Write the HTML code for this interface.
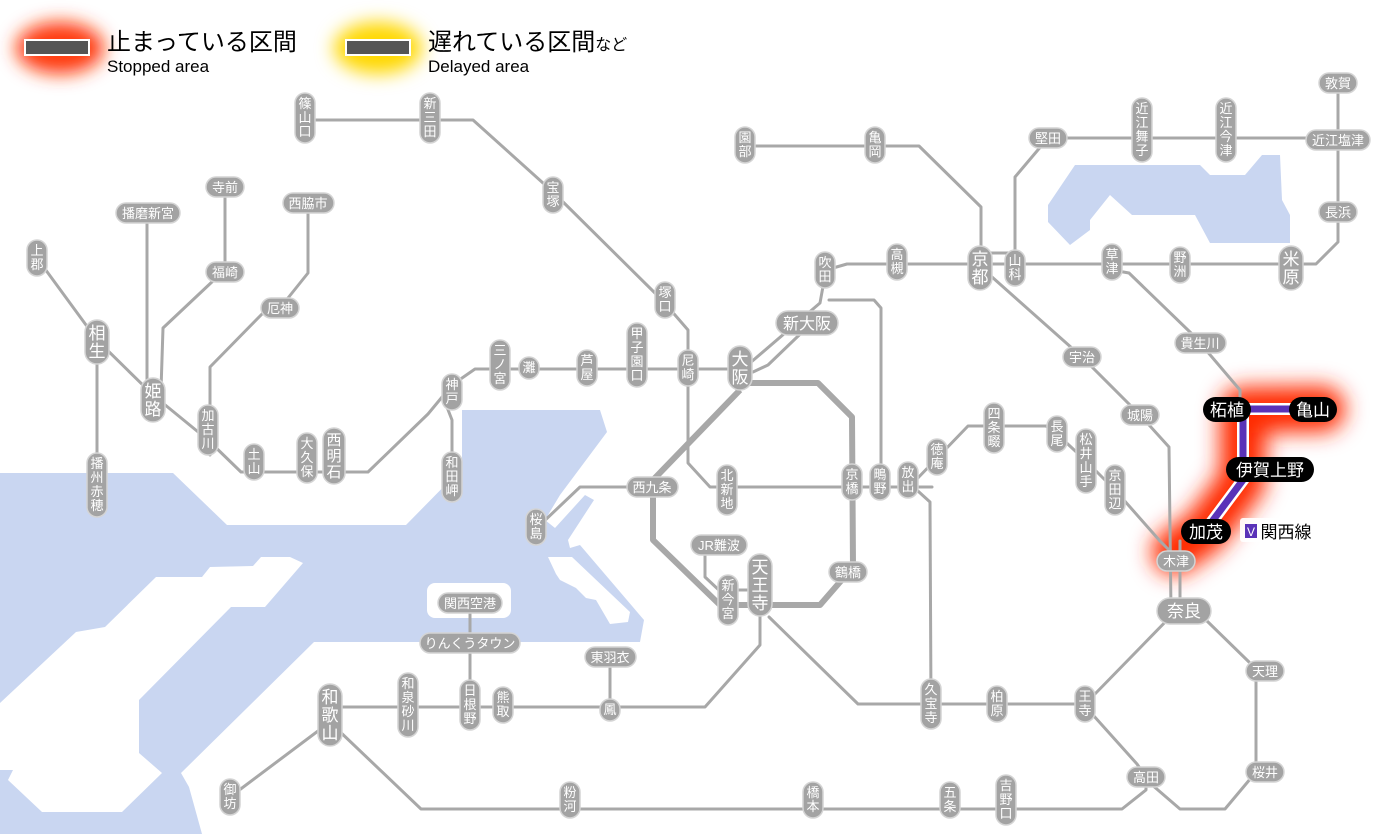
<!DOCTYPE html>
<html><head><meta charset="utf-8"><style>
html,body{margin:0;padding:0;background:#fff;}
svg{display:block;font-family:"Liberation Sans","Noto Sans CJK JP",sans-serif;}
.ln{fill:none;stroke:#a8a8a8;stroke-width:3;stroke-linejoin:round;stroke-linecap:round;}
.tk{fill:none;stroke:#a8a8a8;stroke-width:6;stroke-linejoin:round;}
.p{fill:#a3a3a3;stroke:#d4d4d4;stroke-width:1.5;}
.t{fill:#fff;font-size:13px;text-anchor:middle;}
.b{fill:#fff;font-size:17px;text-anchor:middle;}
.k{fill:#000;}
.kt{fill:#fff;font-size:17px;text-anchor:middle;}
</style></head><body>
<svg width="1400" height="834" viewBox="0 0 1400 834" xmlns="http://www.w3.org/2000/svg">
<defs>
<filter id="bl" x="-50%" y="-50%" width="200%" height="200%"><feGaussianBlur stdDeviation="11"/></filter>
<filter id="bl2" x="-50%" y="-50%" width="200%" height="200%"><feGaussianBlur stdDeviation="9"/></filter>
</defs>
<!-- water -->
<polygon fill="#c9d6f1" points="0,473 173,473 227,525 406,525 462,468 462,410 600,410 607,432 560,495 545,520 555,528 585,495 594,500 568,540 570,548 580,545 644,620 640,642 314,642 181,773 189,787 202,834 0,834"/>
<polygon fill="#fff" points="303,563 290,557 261,557 253,566 210,567 202,577 156,577 105,627 76,632 0,703 0,770 13,770 8,780 42,812 122,812 162,773 139,753 139,700 231,607 265,607"/>
<polygon fill="#fff" points="548,557 572,557 630,612 628,622 610,624 596,600 586,598 576,588 560,580 556,574"/>
<rect x="427" y="583" width="84" height="35" rx="8" fill="#fff"/>
<polygon fill="#c9d6f1" points="1048,205 1075,165 1200,165 1210,175 1245,175 1262,155 1280,155 1282,200 1290,215 1290,243 1210,243 1195,215 1132,215 1110,195 1090,220 1090,230 1070,245 1048,222"/>

<!-- legend -->
<ellipse cx="60" cy="48" rx="44" ry="26" fill="#ff3a10" filter="url(#bl2)"/>
<rect x="25" y="40" width="64" height="15" fill="#555" stroke="#fff" stroke-width="2"/>
<text x="107" y="50" font-size="24" fill="#000">止まっている区間</text>
<text x="107" y="72" font-size="17" fill="#000">Stopped area</text>
<ellipse cx="378" cy="48" rx="44" ry="26" fill="#ffd800" filter="url(#bl2)"/>
<rect x="346" y="40" width="64" height="15" fill="#555" stroke="#fff" stroke-width="2"/>
<text x="428" y="50" font-size="24" fill="#000">遅れている区間<tspan font-size="16">など</tspan></text>
<text x="428" y="72" font-size="17" fill="#000">Delayed area</text>

<!-- glow for Kansai line -->
<path d="M1175,552 L1205,531 L1243,480 L1243,410 L1322,409" fill="none" stroke="#ff2a00" stroke-width="46" stroke-linejoin="round" stroke-linecap="round" filter="url(#bl)"/>

<!-- lines -->
<polyline class="ln" points="305,120 473,120 553,192 662,300 688,330 688,463 710,487 932,487"/>
<polyline class="ln" points="37,258 97,340 153,395 208,440 241,472 368,472 428,414 452,385 475,369 740,369"/>
<polyline class="ln" points="445,402 452,420 452,478"/>
<polyline class="ln" points="210,455 210,367 263,313 280,308 308,273 308,205"/>
<polyline class="ln" points="147,213 147,400"/>
<polyline class="ln" points="161,390 163,328 214,280 225,272 225,187"/>
<polyline class="ln" points="97,340 97,485"/>
<polyline class="ln" points="750,363 820,303 826,270 847,264 1316,264 1338,242 1338,83"/>
<polyline class="ln" points="753,372 768,365 820,315"/>
<polyline class="ln" points="980,253 1015,253"/>
<polyline class="ln" points="1015,265 1015,177 1048,138 1338,138"/>
<polyline class="ln" points="745,146 919,146 981,207 981,265"/>
<polyline class="ln" points="992,277 1082,357 1140,415 1169,447 1171,611"/>
<polyline class="ln" points="1180,541 1180,611"/>
<polyline class="ln" points="1112,270 1129,273 1191,333 1200,343 1240,390 1240,400"/>
<polyline class="ln" points="1180,561 1160,541 1115,490 1086,461 1057,434 1046,426 968,426 914,482"/>
<polyline class="ln" points="908,482 930,502 931,704"/>
<polyline class="ln" points="829,300 874,300 881,308 881,487"/>
<polyline class="tk" points="740,380 750,383 818,383 852,417 853,567 820,605 720,605 653,540 653,480 740,390"/>
<polyline class="ln" points="653,487 580,487 540,525"/>
<polyline class="ln" points="705,553 705,577 722,593"/>
<polyline class="ln" points="728,590 760,590"/>
<polyline class="ln" points="769,617 858,704 1085,704 1093,696 1173,614"/>
<polyline class="ln" points="1200,611 1207,621 1249,662 1256,671 1256,772 1225,809 1180,809 1151,784"/>
<polyline class="ln" points="1093,715 1137,764 1146,777 1146,790 1122,809 421,809 335,727"/>
<polyline class="ln" points="760,600 760,645 705,707 330,707"/>
<polyline class="ln" points="610,657 610,707"/>
<polyline class="ln" points="470,603 470,707"/>
<polyline class="ln" points="330,722 230,797"/>

<!-- Kansai line purple -->
<path d="M1205,531 L1243,480 L1243,409 L1314,409" fill="none" stroke="#fff" stroke-width="12" stroke-linejoin="miter"/>
<path d="M1205,531 L1243,480 L1243,409 L1314,409" fill="none" stroke="#5a32b8" stroke-width="7" stroke-linejoin="miter"/>

<!-- vertical stations (normal) -->
<g>
<rect class="p" x="295" y="93" width="20" height="50" rx="10"/><text class="t"><tspan x="305" y="108">篠</tspan><tspan x="305" y="122">山</tspan><tspan x="305" y="136">口</tspan></text>
<rect class="p" x="420" y="93" width="20" height="50" rx="10"/><text class="t"><tspan x="430" y="108">新</tspan><tspan x="430" y="122">三</tspan><tspan x="430" y="136">田</tspan></text>
<rect class="p" x="543" y="177" width="20" height="36" rx="10"/><text class="t"><tspan x="553" y="192">宝</tspan><tspan x="553" y="206">塚</tspan></text>
<rect class="p" x="655" y="282" width="20" height="36" rx="10"/><text class="t"><tspan x="665" y="297">塚</tspan><tspan x="665" y="311">口</tspan></text>
<rect class="p" x="678" y="350" width="20" height="36" rx="10"/><text class="t"><tspan x="688" y="365">尼</tspan><tspan x="688" y="379">崎</tspan></text>
<rect class="p" x="627" y="323" width="20" height="64" rx="10"/><text class="t"><tspan x="637" y="338">甲</tspan><tspan x="637" y="352">子</tspan><tspan x="637" y="366">園</tspan><tspan x="637" y="380">口</tspan></text>
<rect class="p" x="577" y="350" width="20" height="36" rx="10"/><text class="t"><tspan x="587" y="365">芦</tspan><tspan x="587" y="379">屋</tspan></text>
<rect class="p" x="519" y="357" width="20" height="22" rx="10"/><text class="t" x="529" y="372">灘</text>
<rect class="p" x="490" y="340" width="20" height="50" rx="10"/><text class="t"><tspan x="500" y="355">三</tspan><tspan x="500" y="369">ノ</tspan><tspan x="500" y="383">宮</tspan></text>
<rect class="p" x="442" y="374" width="20" height="36" rx="10"/><text class="t"><tspan x="452" y="389">神</tspan><tspan x="452" y="403">戸</tspan></text>
<rect class="p" x="442" y="452" width="20" height="50" rx="10"/><text class="t"><tspan x="452" y="467">和</tspan><tspan x="452" y="481">田</tspan><tspan x="452" y="495">岬</tspan></text>
<rect class="p" x="323" y="428" width="22" height="56" rx="11"/><text class="t" style="font-size:15px"><tspan x="334" y="445">西</tspan><tspan x="334" y="461">明</tspan><tspan x="334" y="477">石</tspan></text>
<rect class="p" x="297" y="433" width="20" height="50" rx="10"/><text class="t"><tspan x="307" y="448">大</tspan><tspan x="307" y="462">久</tspan><tspan x="307" y="476">保</tspan></text>
<rect class="p" x="244" y="444" width="20" height="36" rx="10"/><text class="t"><tspan x="254" y="459">土</tspan><tspan x="254" y="473">山</tspan></text>
<rect class="p" x="198" y="405" width="20" height="50" rx="10"/><text class="t"><tspan x="208" y="420">加</tspan><tspan x="208" y="434">古</tspan><tspan x="208" y="448">川</tspan></text>
<rect class="p" x="27" y="240" width="20" height="36" rx="10"/><text class="t"><tspan x="37" y="255">上</tspan><tspan x="37" y="269">郡</tspan></text>
<rect class="p" x="87" y="453" width="20" height="64" rx="10"/><text class="t"><tspan x="97" y="468">播</tspan><tspan x="97" y="482">州</tspan><tspan x="97" y="496">赤</tspan><tspan x="97" y="510">穂</tspan></text>
<rect class="p" x="815" y="252" width="20" height="36" rx="10"/><text class="t"><tspan x="825" y="267">吹</tspan><tspan x="825" y="281">田</tspan></text>
<rect class="p" x="887" y="244" width="20" height="36" rx="10"/><text class="t"><tspan x="897" y="259">高</tspan><tspan x="897" y="273">槻</tspan></text>
<rect class="p" x="1005" y="250" width="20" height="36" rx="10"/><text class="t"><tspan x="1015" y="265">山</tspan><tspan x="1015" y="279">科</tspan></text>
<rect class="p" x="1102" y="244" width="20" height="36" rx="10"/><text class="t"><tspan x="1112" y="259">草</tspan><tspan x="1112" y="273">津</tspan></text>
<rect class="p" x="1170" y="247" width="20" height="36" rx="10"/><text class="t"><tspan x="1180" y="262">野</tspan><tspan x="1180" y="276">洲</tspan></text>
<rect class="p" x="1132" y="98" width="20" height="64" rx="10"/><text class="t"><tspan x="1142" y="113">近</tspan><tspan x="1142" y="127">江</tspan><tspan x="1142" y="141">舞</tspan><tspan x="1142" y="155">子</tspan></text>
<rect class="p" x="1216" y="98" width="20" height="64" rx="10"/><text class="t"><tspan x="1226" y="113">近</tspan><tspan x="1226" y="127">江</tspan><tspan x="1226" y="141">今</tspan><tspan x="1226" y="155">津</tspan></text>
<rect class="p" x="735" y="127" width="20" height="36" rx="10"/><text class="t"><tspan x="745" y="142">園</tspan><tspan x="745" y="156">部</tspan></text>
<rect class="p" x="865" y="127" width="20" height="36" rx="10"/><text class="t"><tspan x="875" y="142">亀</tspan><tspan x="875" y="156">岡</tspan></text>
<rect class="p" x="717" y="465" width="20" height="50" rx="10"/><text class="t"><tspan x="727" y="480">北</tspan><tspan x="727" y="494">新</tspan><tspan x="727" y="508">地</tspan></text>
<rect class="p" x="842" y="464" width="20" height="36" rx="10"/><text class="t"><tspan x="852" y="479">京</tspan><tspan x="852" y="493">橋</tspan></text>
<rect class="p" x="870" y="464" width="20" height="36" rx="10"/><text class="t"><tspan x="880" y="479">鴫</tspan><tspan x="880" y="493">野</tspan></text>
<rect class="p" x="898" y="462" width="20" height="36" rx="10"/><text class="t"><tspan x="908" y="477">放</tspan><tspan x="908" y="491">出</tspan></text>
<rect class="p" x="927" y="439" width="20" height="36" rx="10"/><text class="t"><tspan x="937" y="454">徳</tspan><tspan x="937" y="468">庵</tspan></text>
<rect class="p" x="984" y="403" width="20" height="50" rx="10"/><text class="t"><tspan x="994" y="418">四</tspan><tspan x="994" y="432">条</tspan><tspan x="994" y="446">畷</tspan></text>
<rect class="p" x="1047" y="416" width="20" height="36" rx="10"/><text class="t"><tspan x="1057" y="431">長</tspan><tspan x="1057" y="445">尾</tspan></text>
<rect class="p" x="1076" y="429" width="20" height="64" rx="10"/><text class="t"><tspan x="1086" y="444">松</tspan><tspan x="1086" y="458">井</tspan><tspan x="1086" y="472">山</tspan><tspan x="1086" y="486">手</tspan></text>
<rect class="p" x="1105" y="465" width="20" height="50" rx="10"/><text class="t"><tspan x="1115" y="480">京</tspan><tspan x="1115" y="494">田</tspan><tspan x="1115" y="508">辺</tspan></text>
<rect class="p" x="526" y="509" width="20" height="36" rx="10"/><text class="t"><tspan x="536" y="524">桜</tspan><tspan x="536" y="538">島</tspan></text>
<rect class="p" x="718" y="575" width="20" height="50" rx="10"/><text class="t"><tspan x="728" y="590">新</tspan><tspan x="728" y="604">今</tspan><tspan x="728" y="618">宮</tspan></text>
<rect class="p" x="921" y="679" width="20" height="50" rx="10"/><text class="t"><tspan x="931" y="694">久</tspan><tspan x="931" y="708">宝</tspan><tspan x="931" y="722">寺</tspan></text>
<rect class="p" x="987" y="686" width="20" height="36" rx="10"/><text class="t"><tspan x="997" y="701">柏</tspan><tspan x="997" y="715">原</tspan></text>
<rect class="p" x="1075" y="686" width="20" height="36" rx="10"/><text class="t"><tspan x="1085" y="701">王</tspan><tspan x="1085" y="715">寺</tspan></text>
<rect class="p" x="398" y="673" width="20" height="64" rx="10"/><text class="t"><tspan x="408" y="688">和</tspan><tspan x="408" y="702">泉</tspan><tspan x="408" y="716">砂</tspan><tspan x="408" y="730">川</tspan></text>
<rect class="p" x="460" y="680" width="20" height="50" rx="10"/><text class="t"><tspan x="470" y="695">日</tspan><tspan x="470" y="709">根</tspan><tspan x="470" y="723">野</tspan></text>
<rect class="p" x="493" y="687" width="20" height="36" rx="10"/><text class="t"><tspan x="503" y="702">熊</tspan><tspan x="503" y="716">取</tspan></text>
<rect class="p" x="600" y="699" width="20" height="22" rx="10"/><text class="t" x="610" y="714">鳳</text>
<rect class="p" x="220" y="779" width="20" height="36" rx="10"/><text class="t"><tspan x="230" y="794">御</tspan><tspan x="230" y="808">坊</tspan></text>
<rect class="p" x="560" y="782" width="20" height="36" rx="10"/><text class="t"><tspan x="570" y="797">粉</tspan><tspan x="570" y="811">河</tspan></text>
<rect class="p" x="803" y="782" width="20" height="36" rx="10"/><text class="t"><tspan x="813" y="797">橋</tspan><tspan x="813" y="811">本</tspan></text>
<rect class="p" x="940" y="782" width="20" height="36" rx="10"/><text class="t"><tspan x="950" y="797">五</tspan><tspan x="950" y="811">条</tspan></text>
<rect class="p" x="996" y="775" width="20" height="50" rx="10"/><text class="t"><tspan x="1006" y="790">吉</tspan><tspan x="1006" y="804">野</tspan><tspan x="1006" y="818">口</tspan></text>
</g>

<!-- big vertical -->
<g>
<rect class="p" x="85" y="320" width="24" height="44" rx="12"/><text class="b"><tspan x="97" y="339">相</tspan><tspan x="97" y="357">生</tspan></text>
<rect class="p" x="141" y="378" width="24" height="44" rx="12"/><text class="b"><tspan x="153" y="397">姫</tspan><tspan x="153" y="415">路</tspan></text>
<rect class="p" x="728" y="346" width="24" height="44" rx="12"/><text class="b"><tspan x="740" y="365">大</tspan><tspan x="740" y="383">阪</tspan></text>
<rect class="p" x="968" y="246" width="24" height="44" rx="12"/><text class="b"><tspan x="980" y="265">京</tspan><tspan x="980" y="283">都</tspan></text>
<rect class="p" x="1279" y="246" width="24" height="44" rx="12"/><text class="b"><tspan x="1291" y="265">米</tspan><tspan x="1291" y="283">原</tspan></text>
<rect class="p" x="748" y="554" width="24" height="62" rx="12"/><text class="b"><tspan x="760" y="573">天</tspan><tspan x="760" y="591">王</tspan><tspan x="760" y="609">寺</tspan></text>
<rect class="p" x="318" y="684" width="24" height="62" rx="12"/><text class="b"><tspan x="330" y="703">和</tspan><tspan x="330" y="721">歌</tspan><tspan x="330" y="739">山</tspan></text>
</g>

<!-- horizontal stations -->
<g>
<rect class="p" x="206" y="177" width="38" height="20" rx="10"/><text class="t" x="225" y="192">寺前</text>
<rect class="p" x="116" y="203" width="64" height="20" rx="10"/><text class="t" x="148" y="218">播磨新宮</text>
<rect class="p" x="283" y="193" width="51" height="20" rx="10"/><text class="t" x="308" y="208">西脇市</text>
<rect class="p" x="206" y="262" width="38" height="20" rx="10"/><text class="t" x="225" y="277">福崎</text>
<rect class="p" x="261" y="298" width="38" height="20" rx="10"/><text class="t" x="280" y="313">厄神</text>
<rect class="p" x="1063" y="347" width="38" height="20" rx="10"/><text class="t" x="1082" y="362">宇治</text>
<rect class="p" x="1121" y="405" width="38" height="20" rx="10"/><text class="t" x="1140" y="420">城陽</text>
<rect class="p" x="1175" y="333" width="51" height="20" rx="10"/><text class="t" x="1200" y="348">貴生川</text>
<rect class="p" x="1029" y="128" width="38" height="20" rx="10"/><text class="t" x="1048" y="143">堅田</text>
<rect class="p" x="1306" y="130" width="64" height="20" rx="10"/><text class="t" x="1338" y="145">近江塩津</text>
<rect class="p" x="1319" y="73" width="38" height="20" rx="10"/><text class="t" x="1338" y="88">敦賀</text>
<rect class="p" x="1319" y="202" width="38" height="20" rx="10"/><text class="t" x="1338" y="217">長浜</text>
<rect class="p" x="627" y="477" width="51" height="20" rx="10"/><text class="t" x="652" y="492">西九条</text>
<rect class="p" x="691" y="535" width="56" height="20" rx="10"/><text class="t" x="719" y="550">JR難波</text>
<rect class="p" x="829" y="562" width="38" height="20" rx="10"/><text class="t" x="848" y="577">鶴橋</text>
<rect class="p" x="438" y="593" width="64" height="20" rx="10"/><text class="t" x="470" y="608">関西空港</text>
<rect class="p" x="420" y="633" width="100" height="20" rx="10"/><text class="t" x="470" y="648">りんくうタウン</text>
<rect class="p" x="585" y="647" width="51" height="20" rx="10"/><text class="t" x="610" y="662">東羽衣</text>
<rect class="p" x="1246" y="661" width="38" height="20" rx="10"/><text class="t" x="1265" y="676">天理</text>
<rect class="p" x="1246" y="762" width="38" height="20" rx="10"/><text class="t" x="1265" y="777">桜井</text>
<rect class="p" x="1127" y="767" width="38" height="20" rx="10"/><text class="t" x="1146" y="782">高田</text>
<rect class="p" x="1157" y="551" width="38" height="20" rx="10"/><text class="t" x="1176" y="566">木津</text>
<rect class="p" x="776" y="311" width="62" height="24" rx="12"/><text class="t" style="font-size:16px" x="807" y="329">新大阪</text>
<rect class="p" x="1157" y="598" width="54" height="26" rx="13"/><text class="t" style="font-size:17px" x="1184" y="617">奈良</text>
</g>

<!-- highlighted -->
<rect class="k" x="1203" y="397" width="48" height="25" rx="12.5"/><text class="kt" x="1227" y="416">柘植</text>
<rect class="k" x="1289" y="397" width="48" height="25" rx="12.5"/><text class="kt" x="1313" y="416">亀山</text>
<rect class="k" x="1226" y="457" width="88" height="25" rx="12.5"/><text class="kt" x="1270" y="476">伊賀上野</text>
<rect class="k" x="1181" y="519" width="50" height="25" rx="12.5"/><text class="kt" x="1206" y="538">加茂</text>
<rect x="1240" y="518" width="74" height="24" rx="3" fill="#fff" opacity="0.9"/>
<rect x="1245" y="524" width="12" height="14" fill="#5a32b8"/><text x="1251" y="536" font-size="12" fill="#fff" text-anchor="middle">V</text>
<text x="1286" y="538" font-size="17" fill="#000" text-anchor="middle">関西線</text>
</svg>
</body></html>
